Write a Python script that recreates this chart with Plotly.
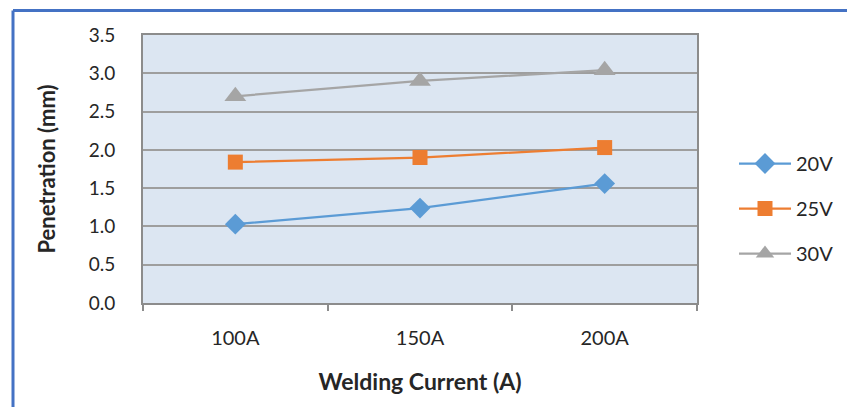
import plotly.graph_objects as go

# Welding current categories and penetration depth (mm) per arc voltage
currents = ["100A", "150A", "200A"]
pen_20v = [1.03, 1.24, 1.56]
pen_25v = [1.84, 1.90, 2.03]
pen_30v = [2.70, 2.90, 3.04]
series_names = ["20V", "25V", "30V"]
y_ticks = [0.0, 0.5, 1.0, 1.5, 2.0, 2.5, 3.0, 3.5]

W, H = 847, 407
L, R, T, B = 143, 697, 35, 303  # plot-area edges in pixels

FONT = "Lato, Carlito, Calibri, sans-serif"

styles = [
    dict(color="#5b9bd5", symbol="diamond", size=16),
    dict(color="#ed7d31", symbol="square", size=15),
    dict(color="#a5a5a5", symbol="triangle-up", size=19),
]

fig = go.Figure()
for name, vals, st in zip(series_names, [pen_20v, pen_25v, pen_30v], styles):
    fig.add_trace(go.Scatter(
        x=currents, y=vals, name=name, mode="lines+markers",
        legendgroup=name,
        line=dict(color=st["color"], width=2.25),
        marker=dict(symbol=st["symbol"], size=st["size"], color=st["color"],
                    line=dict(width=0)),
    ))

def px_x(p):
    return (p - L) / (R - L)

def px_y(p):
    return (B - p) / (B - T)

# blue outer frame along the top and left edges
fig.add_shape(type="line", xref="paper", yref="paper",
              x0=px_x(13), x1=px_x(W + 5), y0=px_y(10.5), y1=px_y(10.5),
              line=dict(color="#4472c4", width=3))
fig.add_shape(type="line", xref="paper", yref="paper",
              x0=px_x(13), x1=px_x(13), y0=px_y(10.5), y1=px_y(H + 5),
              line=dict(color="#4472c4", width=3))

fig.update_layout(
    width=W, height=H,
    margin=dict(l=L, r=W - R, t=T, b=H - B, autoexpand=False),
    paper_bgcolor="white",
    plot_bgcolor="#dce6f2",
    font=dict(family=FONT, color="#262626", size=19),
    showlegend=True,
    legend=dict(
        x=px_x(734), y=px_y(144), xanchor="left", yanchor="top",
        font=dict(size=20, family=FONT, color="#262626"),
        tracegroupgap=16, itemwidth=52, bgcolor="rgba(0,0,0,0)",
    ),
    xaxis=dict(
        type="category", range=[-0.5, 2.5],
        tickson="boundaries", ticks="outside", ticklen=6, tickwidth=1.5,
        tickcolor="#8c8c8c",
        showline=True, linecolor="#8c8c8c", linewidth=2, mirror=True,
        showgrid=False, ticklabelstandoff=16,
        tickfont=dict(size=20, family=FONT, color="#262626"),
        title=dict(text="<b>Welding Current (A)</b>", standoff=26,
                   font=dict(size=23, family=FONT, color="#262626")),
    ),
    yaxis=dict(
        range=[0, 3.5], tickvals=y_ticks, ticktext=[f"{v:.1f}" for v in y_ticks],
        ticks="outside", ticklen=22, tickcolor="rgba(0,0,0,0)",
        showline=True, linecolor="#8c8c8c", linewidth=2, mirror=True,
        showgrid=True, gridcolor="#9e9e9e", gridwidth=1.5,
        zeroline=False,
        tickfont=dict(size=19, family=FONT, color="#262626"),
        title=dict(text="<b>Penetration (mm)</b>", standoff=27,
                   font=dict(size=22, family=FONT, color="#262626")),
    ),
)

fig.write_html("out.html")
